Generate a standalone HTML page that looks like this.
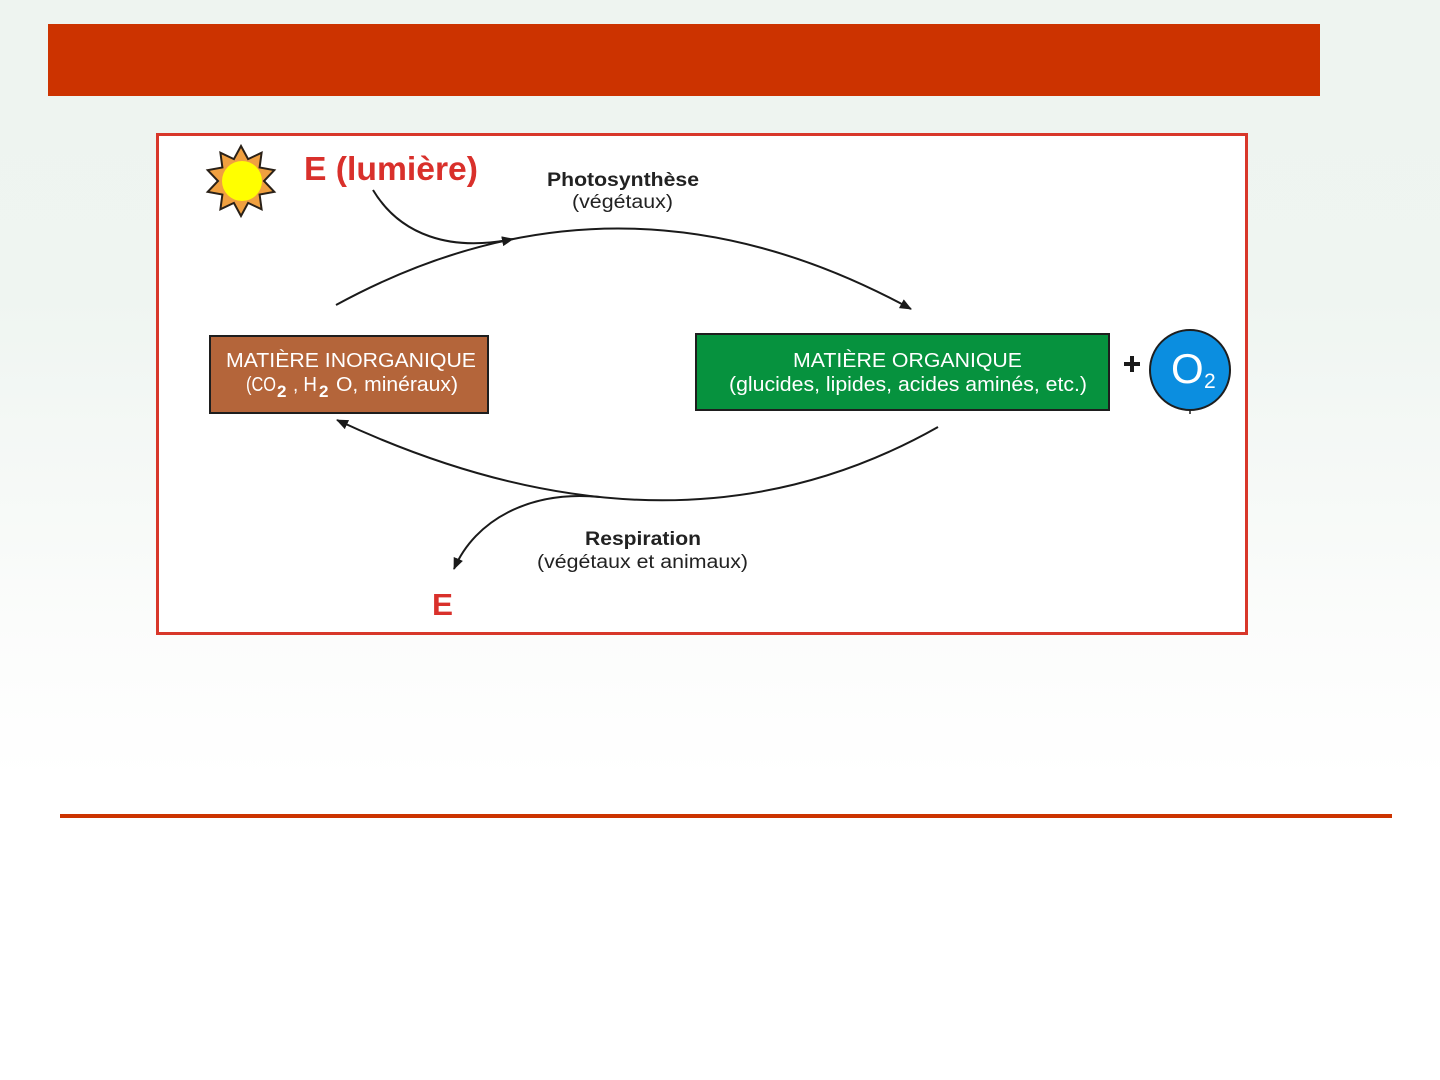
<!DOCTYPE html>
<html>
<head>
<meta charset="utf-8">
<style>
  html, body { margin: 0; padding: 0; }
  body {
    width: 1440px; height: 1080px; overflow: hidden;
    background: linear-gradient(to bottom, #eef4f0 0px, #eff5f1 300px, #fbfcfb 620px, #ffffff 780px, #ffffff 1080px);
  }
  svg { position: absolute; left: 0; top: 0; }
  text { font-family: "Liberation Sans", Arial, sans-serif; }
</style>
</head>
<body>
<svg width="1440" height="1080" viewBox="0 0 1440 1080" xmlns="http://www.w3.org/2000/svg">
  <defs>
    <marker id="ah" viewBox="0 0 12 10" refX="11" refY="5" markerWidth="12" markerHeight="10" markerUnits="userSpaceOnUse" orient="auto">
      <path d="M0,0 L12,5 L0,10 Z" fill="#1a1a1a"/>
    </marker>
  </defs>

  <!-- title bar -->
  <rect x="48" y="24" width="1272" height="72" fill="#cc3300"/>

  <!-- bottom rule -->
  <rect x="60" y="814" width="1332" height="4" fill="#cc3300"/>

  <!-- diagram frame -->
  <rect x="157.5" y="134.5" width="1089" height="499" fill="#ffffff" stroke="#d8372a" stroke-width="3"/>

  <!-- sun -->
  <polygon points="241,146 248.1,159.1 261.6,152.7 259.6,167.5 274.3,170.2 264,181 274.3,191.8 259.6,194.5 261.6,209.3 248.1,202.9 241,216 233.9,202.9 220.4,209.3 222.4,194.5 207.7,191.8 218,181 207.7,170.2 222.4,167.5 220.4,152.7 233.9,159.1"
           fill="#f0a040" stroke="#2a2118" stroke-width="2" stroke-linejoin="miter"/>
  <circle cx="242" cy="181" r="20" fill="#ffff00"/>

  <!-- E (lumière) -->
  <text x="304" y="180" font-size="33" font-weight="bold" fill="#d9302b" textLength="174" lengthAdjust="spacingAndGlyphs">E (lumière)</text>

  <!-- Photosynthèse labels -->
  <text x="547" y="186" font-size="19" font-weight="bold" fill="#222" textLength="152" lengthAdjust="spacingAndGlyphs">Photosynthèse</text>
  <text x="572" y="208" font-size="19" fill="#222" textLength="101" lengthAdjust="spacingAndGlyphs">(végétaux)</text>

  <!-- photosynthesis arc -->
  <path d="M336,305 Q620,150 911,309" fill="none" stroke="#1a1a1a" stroke-width="2" marker-end="url(#ah)"/>
  <!-- light input curve -->
  <path d="M373,190 C400,235 450,252 513,239" fill="none" stroke="#1a1a1a" stroke-width="2" marker-end="url(#ah)"/>

  <!-- inorganic box -->
  <rect x="210" y="336" width="278" height="77" fill="#b4653a" stroke="#1e1e1e" stroke-width="2"/>
  <text x="226" y="367" font-size="20" fill="#ffffff" textLength="250" lengthAdjust="spacingAndGlyphs">MATIÈRE INORGANIQUE</text>
  <text x="246" y="391" font-size="20" fill="#ffffff" textLength="30" lengthAdjust="spacingAndGlyphs">(CO</text>
  <text x="277" y="397" font-size="17" font-weight="bold" fill="#ffffff">2</text>
  <text x="293" y="391" font-size="20" fill="#ffffff" textLength="24" lengthAdjust="spacingAndGlyphs">, H</text>
  <text x="319" y="397" font-size="17" font-weight="bold" fill="#ffffff">2</text>
  <text x="336" y="391" font-size="20" fill="#ffffff" textLength="122" lengthAdjust="spacingAndGlyphs">O, minéraux)</text>

  <!-- organic box -->
  <rect x="696" y="334" width="413" height="76" fill="#06923e" stroke="#1e1e1e" stroke-width="2"/>
  <text x="793" y="367" font-size="20" fill="#ffffff" textLength="229" lengthAdjust="spacingAndGlyphs">MATIÈRE ORGANIQUE</text>
  <text x="729" y="391" font-size="20" fill="#ffffff" textLength="358" lengthAdjust="spacingAndGlyphs">(glucides, lipides, acides aminés, etc.)</text>

  <!-- plus -->
  <rect x="1124" y="362" width="16" height="4" fill="#1a1a1a"/>
  <rect x="1130" y="356" width="4" height="16" fill="#1a1a1a"/>

  <!-- O2 circle -->
  <circle cx="1190" cy="370" r="40" fill="#0b8ee0" stroke="#1e1e1e" stroke-width="2"/>
  <line x1="1190" y1="410" x2="1190" y2="414" stroke="#1e1e1e" stroke-width="1.5"/>
  <text x="1171" y="383" font-size="42" fill="#ffffff">O</text>
  <text x="1204" y="388" font-size="21" fill="#ffffff">2</text>

  <!-- respiration arc -->
  <path d="M938,427 Q673,577 337,420" fill="none" stroke="#1a1a1a" stroke-width="2" marker-end="url(#ah)"/>
  <!-- energy release branch -->
  <path d="M600,497 C530,490 475,520 454,569" fill="none" stroke="#1a1a1a" stroke-width="2" marker-end="url(#ah)"/>

  <!-- Respiration labels -->
  <text x="585" y="545" font-size="19" font-weight="bold" fill="#222" textLength="116" lengthAdjust="spacingAndGlyphs">Respiration</text>
  <text x="537" y="568" font-size="19" fill="#222" textLength="211" lengthAdjust="spacingAndGlyphs">(végétaux et animaux)</text>

  <!-- E -->
  <text x="432" y="615" font-size="31" font-weight="bold" fill="#d9302b" textLength="21" lengthAdjust="spacingAndGlyphs">E</text>
</svg>
</body>
</html>
